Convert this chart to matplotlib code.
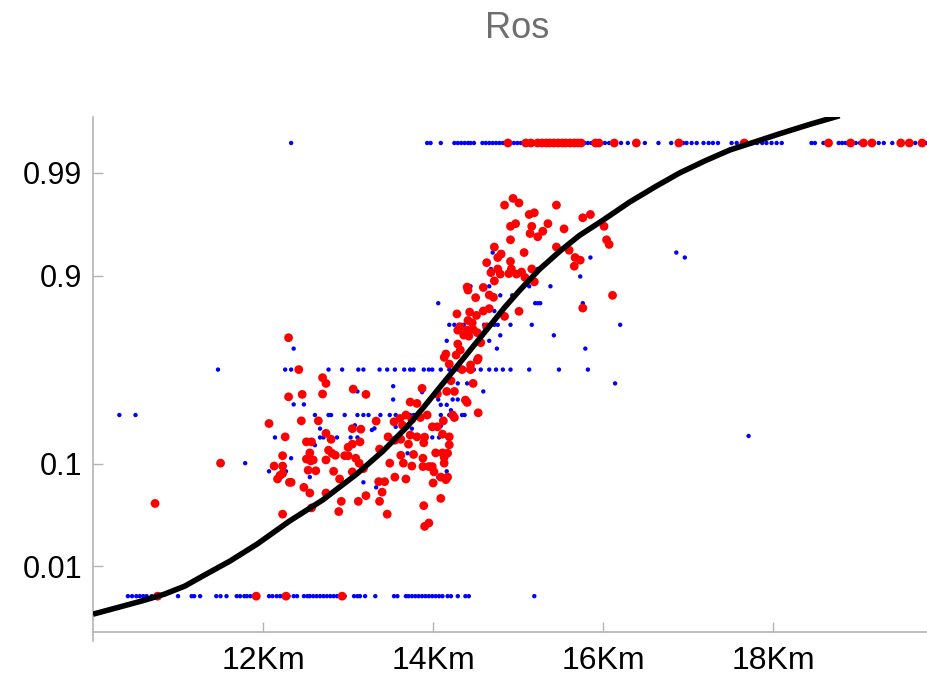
import matplotlib
matplotlib.use("Agg")
import matplotlib.pyplot as plt
from matplotlib.ticker import NullLocator

plt.rcParams['font.family'] = ['Liberation Sans', 'DejaVu Sans']

# blue points sitting on the 0 / 1 rows (drawn at 0.005 / 0.995)
blue_top_km = [12.33, 13.93, 13.97, 14.09, 14.25, 14.29, 14.33, 14.37, 14.41, 14.44, 14.48,
               14.58, 14.62, 14.66, 14.70, 14.74, 14.78, 14.82, 14.91, 14.95, 14.99, 15.03, 15.07,
               15.78, 15.82, 15.86, 16.02, 16.07, 16.21, 16.29, 16.37, 16.49, 16.65, 16.80,
               16.94, 16.98, 17.04, 17.10, 17.18, 17.24, 17.29, 17.35, 17.51, 17.57, 17.63,
               17.75, 17.81, 17.87, 17.92, 17.98, 18.04, 18.10, 18.45, 18.49, 18.59,
               18.77, 18.81, 18.85, 18.89, 18.97, 19.02, 19.24, 19.30, 19.40, 19.67, 19.81]
blue_bot_km = [10.41, 10.46, 10.51, 10.55, 10.59, 10.63, 10.69, 11.00, 11.16, 11.19, 11.26,
               11.45, 11.50, 11.57, 11.69, 11.73, 11.78, 11.81, 11.85, 11.89, 12.07, 12.11,
               12.16, 12.20, 12.23, 12.30, 12.36, 12.40, 12.48, 12.52, 12.55, 12.59, 12.63,
               12.67, 12.71, 12.75, 12.79, 12.83, 12.87, 12.96, 13.07, 13.11, 13.14, 13.20,
               13.32, 13.54, 13.58, 13.68, 13.71, 13.75, 13.79, 13.83, 13.87, 13.91, 13.95,
               13.99, 14.03, 14.07, 14.11, 14.17, 14.21, 14.29, 14.38, 14.42, 15.19]
red_top_km = [14.88, 15.09, 15.15, 15.23, 15.28, 15.33, 15.37, 15.42, 15.47, 15.52, 15.56,
              15.61, 15.66, 15.70, 15.74, 15.91, 15.95, 16.13, 16.39, 16.89, 17.66, 18.65,
              18.91, 19.06, 19.16, 19.50, 19.60, 19.75]
red_bot_km = [10.76, 11.92, 12.27, 12.93]

# blue points on repeated fractions
blue_half_km = [11.47, 12.26, 12.33, 12.77, 12.93, 13.12, 13.18, 13.37, 13.46, 13.55, 13.66,
                13.73, 13.77, 13.89, 13.95, 13.99, 14.09, 14.19, 14.29, 14.38, 14.48, 14.56,
                14.66, 14.74, 14.82, 14.91, 15.13, 15.48, 15.82]
blue_257_km = [10.31, 10.50, 12.61, 12.77, 12.80, 12.96, 13.11, 13.18, 13.24, 13.38, 13.49,
               13.56, 13.73, 13.77, 14.09, 14.19, 14.34, 14.37]
blue_170_km = [12.14, 12.67, 12.71, 12.87, 13.03, 13.11, 13.99, 14.07]
blue_740_km = [14.19, 14.25, 14.30, 14.36, 14.60, 14.72, 14.76, 14.91, 15.16, 16.20]
blue_825_km = [14.06, 15.20, 15.23, 15.26, 15.76]
blue_875_km = [14.44, 14.66, 15.13, 15.38]

blue_km = [12.36, 14.70, 14.68, 15.23, 15.73, 15.85, 14.79, 14.93, 14.72, 14.79, 15.42, 14.16,
           14.66, 14.75, 15.79, 16.14, 14.59, 14.29, 14.40, 14.23, 14.29, 14.09, 14.16, 14.06,
           14.21, 14.09, 14.21, 14.16, 14.06, 13.53, 13.11, 13.53, 13.87, 12.36, 12.48, 12.67,
           13.08, 13.28, 13.31, 13.56, 13.75, 12.61, 13.70, 12.33, 11.79, 12.07, 12.27, 12.55,
           13.18, 13.33, 17.71, 16.86, 16.96]
blue_p = [0.620, 0.939, 0.913, 0.913, 0.898, 0.932, 0.850, 0.850, 0.797, 0.690, 0.690, 0.662,
          0.662, 0.620, 0.620, 0.420, 0.375, 0.420, 0.420, 0.332, 0.332, 0.305, 0.305, 0.332,
          0.279, 0.211, 0.147, 0.085, 0.075, 0.404, 0.375, 0.332, 0.371, 0.307, 0.307, 0.201,
          0.214, 0.196, 0.202, 0.208, 0.201, 0.146, 0.124, 0.112, 0.101, 0.085, 0.085, 0.075,
          0.067, 0.060, 0.175, 0.939, 0.932]

red_km = [14.84, 14.94, 15.01, 15.45, 15.13, 15.19, 14.91, 14.97, 15.16, 15.14, 15.23, 15.29,
          15.35, 15.54, 15.76, 15.85, 16.01, 14.91, 15.45, 16.04, 16.07, 15.60, 15.67, 15.73,
          15.66, 14.72, 14.80, 14.76, 15.07, 14.91, 14.63, 14.76, 14.68, 14.79, 14.89, 14.92,
          14.98, 15.04, 15.16, 15.08, 15.19, 14.72, 14.40, 14.41, 14.59, 14.50, 14.66, 14.71,
          16.11, 15.76, 14.28, 14.43, 14.51, 14.59, 14.66, 14.84, 15.01, 14.41, 14.46, 14.32,
          14.29, 14.40, 14.47, 14.36, 14.42, 14.52, 14.63, 14.56, 14.29, 14.32, 14.27, 14.15,
          14.53, 14.13,
          14.19, 14.34, 14.44, 14.44, 14.52, 14.21, 14.47, 14.16, 14.25, 14.05, 14.38, 14.40,
          14.53, 14.23, 14.25, 14.12, 13.99, 14.05, 14.11, 14.19, 14.19, 14.03, 14.11, 14.17,
          14.13, 14.13, 13.99, 14.01, 14.09, 14.17, 14.15, 14.00, 14.09,
          12.42, 12.70, 12.74, 12.30, 12.46, 12.70, 13.06, 13.21, 13.87, 13.73, 13.81, 12.07,
          12.45, 12.65, 13.33, 13.61, 13.68, 13.75, 13.85, 13.93, 13.54, 13.64, 13.05, 13.15,
          12.74, 12.26, 12.80, 12.51, 12.57, 13.05, 13.14, 13.47, 13.55, 13.62, 13.73, 13.81,
          13.90, 13.00, 12.77, 12.81, 12.85, 12.55, 13.37, 13.71, 13.89, 12.23, 12.51, 12.56,
          12.59, 12.74, 12.96, 13.00, 13.09, 13.13, 13.62, 13.77, 13.88, 12.13, 12.23, 12.62,
          12.53, 12.83, 13.05, 13.18, 13.49, 13.65, 13.75, 13.88, 13.95, 12.20, 12.17, 12.23,
          12.31, 12.33, 12.90, 13.55, 13.68, 13.36, 13.43, 12.48, 12.55, 12.74, 13.40, 13.21,
          12.92, 13.12, 13.37, 13.89, 12.57, 12.89, 12.23, 13.46, 13.95, 13.90,
          12.30, 11.50, 10.73]
red_p = [0.979, 0.982, 0.980, 0.979, 0.974, 0.975, 0.966, 0.968, 0.966, 0.960, 0.957, 0.962,
         0.968, 0.964, 0.972, 0.974, 0.966, 0.954, 0.946, 0.954, 0.949, 0.942, 0.932, 0.928,
         0.918, 0.946, 0.937, 0.932, 0.939, 0.926, 0.924, 0.913, 0.906, 0.903, 0.904, 0.913,
         0.903, 0.907, 0.913, 0.896, 0.886, 0.888, 0.873, 0.865, 0.872, 0.843, 0.851, 0.844,
         0.850, 0.808, 0.786, 0.793, 0.780, 0.797, 0.806, 0.776, 0.796, 0.759, 0.749, 0.731,
         0.715, 0.715, 0.719, 0.691, 0.686, 0.703, 0.731, 0.652, 0.645, 0.612, 0.584, 0.590,
         0.565, 0.571,
         0.532, 0.500, 0.500, 0.527, 0.555, 0.435, 0.420, 0.375, 0.375, 0.361, 0.329, 0.317,
         0.267, 0.257, 0.246, 0.232, 0.208, 0.208, 0.181, 0.172, 0.147, 0.125, 0.125, 0.124,
         0.114, 0.101, 0.094, 0.084, 0.075, 0.075, 0.071, 0.066, 0.047,
         0.500, 0.453, 0.420, 0.346, 0.359, 0.361, 0.388, 0.359, 0.392, 0.319, 0.312, 0.221,
         0.232, 0.232, 0.231, 0.242, 0.257, 0.238, 0.246, 0.257, 0.228, 0.214, 0.201, 0.199,
         0.184, 0.172, 0.164, 0.156, 0.156, 0.149, 0.156, 0.172, 0.161, 0.164, 0.178, 0.172,
         0.171, 0.140, 0.132, 0.124, 0.119, 0.125, 0.135, 0.149, 0.153, 0.118, 0.110, 0.106,
         0.108, 0.108, 0.118, 0.118, 0.112, 0.101, 0.119, 0.121, 0.112, 0.095, 0.095, 0.086,
         0.087, 0.085, 0.084, 0.090, 0.101, 0.101, 0.095, 0.094, 0.094, 0.078, 0.072, 0.081,
         0.067, 0.067, 0.072, 0.075, 0.072, 0.068, 0.068, 0.060, 0.053, 0.053, 0.054, 0.050,
         0.044, 0.044, 0.044, 0.040, 0.038, 0.035, 0.033, 0.033, 0.027, 0.025,
         0.678, 0.101, 0.042]

# fitted curve
curve_km = [10.00, 10.31, 10.61, 10.84, 11.08, 11.31, 11.61, 11.93, 12.31, 12.70, 13.10,
            13.41, 13.69, 13.88, 14.08, 14.35, 14.55, 14.75, 14.84, 15.02, 15.25, 15.49,
            15.72, 16.00, 16.31, 16.61, 16.90, 17.20, 17.49, 17.76, 18.08, 18.43, 18.78]
curve_p = [0.00329, 0.00388, 0.00456, 0.00524, 0.00632, 0.00815, 0.01127, 0.01668, 0.0282,
           0.0453, 0.0800, 0.1297, 0.207, 0.289, 0.399, 0.561, 0.676, 0.773, 0.810, 0.8647,
           0.9122, 0.9408, 0.9582, 0.9705, 0.9804, 0.9862, 0.9900, 0.99245, 0.99412, 0.99505,
           0.99598, 0.99676, 0.99735]

ytick_vals = [0.01, 0.1, 0.9, 0.99]
ytick_labels = ['0.01', '0.1', '0.9', '0.99']
xtick_vals = [12, 14, 16, 18]
xtick_labels = ['12Km', '14Km', '16Km', '18Km']

p_zero, p_one = 0.005, 0.995

bx = (blue_top_km + blue_bot_km + blue_half_km + blue_257_km + blue_170_km
      + blue_740_km + blue_825_km + blue_875_km + blue_km)
by = ([p_one] * len(blue_top_km) + [p_zero] * len(blue_bot_km) + [0.5] * len(blue_half_km)
      + [0.257] * len(blue_257_km) + [0.17] * len(blue_170_km) + [0.74] * len(blue_740_km)
      + [0.825] * len(blue_825_km) + [0.875] * len(blue_875_km) + blue_p)
rx = red_top_km + red_bot_km + red_km
ry = [p_one] * len(red_top_km) + [p_zero] * len(red_bot_km) + red_p

fig = plt.figure(figsize=(9.28, 6.8), dpi=100)
ax = fig.add_axes([93 / 928, 1 - 641 / 680, 835 / 928, 524 / 680])
ax.set_yscale('logit')

ax.scatter(bx, by, s=10, c='#0000ff', edgecolors='none', zorder=2, clip_on=False)
ax.scatter(rx, ry, s=40, c='#ff0000', edgecolors='none', zorder=3, clip_on=False)
ax.plot(curve_km, curve_p, color='black', lw=4.0, zorder=4,
        solid_capstyle='butt', solid_joinstyle='round')

ax.set_xlim(10, 19.82)
ax.set_ylim(0.00176, 0.99727)

ax.set_yticks(ytick_vals)
ax.set_yticklabels(ytick_labels)
ax.yaxis.set_minor_locator(NullLocator())
ax.set_xticks(xtick_vals)
ax.set_xticklabels(xtick_labels)

for side in ['top', 'right']:
    ax.spines[side].set_visible(False)
for side in ['left', 'bottom']:
    ax.spines[side].set_color('#b4b4b4')
    ax.spines[side].set_linewidth(1.2)
ax.spines['bottom'].set_position(('data', 0.00217))

ax.tick_params(direction='in', length=7, width=1, color='#b4b4b4',
               labelcolor='black')
ax.tick_params(axis='y', pad=8, labelsize=22)
ax.tick_params(axis='x', pad=10, labelsize=23)

fig.text(517 / 928, 1 - 28 / 680, 'Ros', ha='center', va='center',
         fontsize=26, color='#6e6e6e')

fig.savefig('out.png', dpi=100)
